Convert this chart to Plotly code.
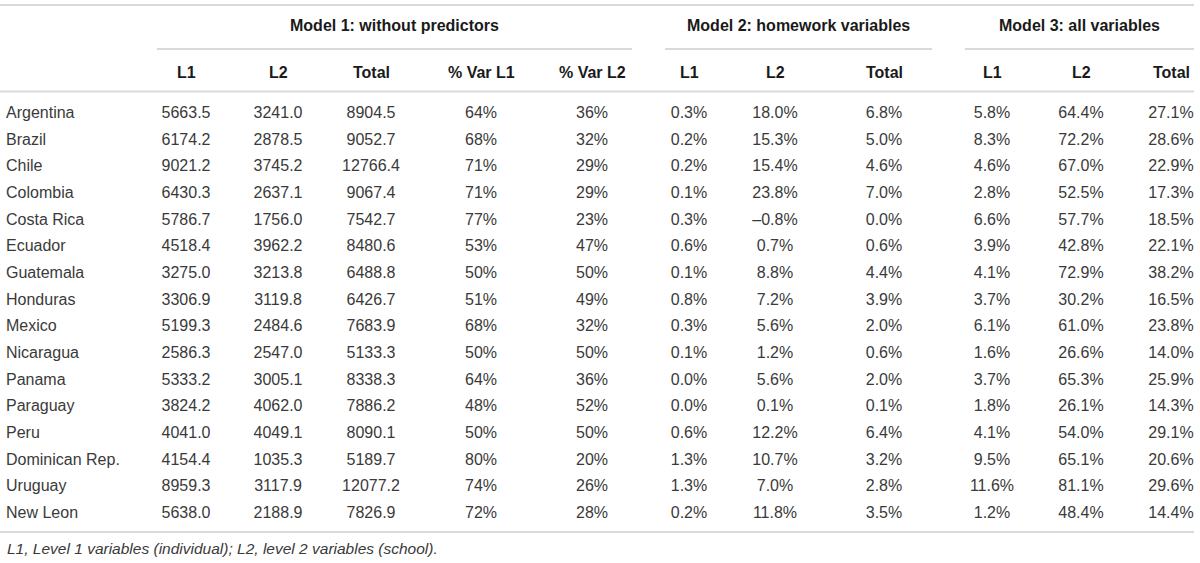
import plotly.graph_objects as go

# Data
countries = ["Argentina", "Brazil", "Chile", "Colombia", "Costa Rica", "Ecuador",
             "Guatemala", "Honduras", "Mexico", "Nicaragua", "Panama", "Paraguay",
             "Peru", "Dominican Rep.", "Uruguay", "New Leon"]

m1_l1 = ["5663.5", "6174.2", "9021.2", "6430.3", "5786.7", "4518.4", "3275.0", "3306.9",
         "5199.3", "2586.3", "5333.2", "3824.2", "4041.0", "4154.4", "8959.3", "5638.0"]
m1_l2 = ["3241.0", "2878.5", "3745.2", "2637.1", "1756.0", "3962.2", "3213.8", "3119.8",
         "2484.6", "2547.0", "3005.1", "4062.0", "4049.1", "1035.3", "3117.9", "2188.9"]
m1_total = ["8904.5", "9052.7", "12766.4", "9067.4", "7542.7", "8480.6", "6488.8", "6426.7",
            "7683.9", "5133.3", "8338.3", "7886.2", "8090.1", "5189.7", "12077.2", "7826.9"]
m1_var_l1 = ["64%", "68%", "71%", "71%", "77%", "53%", "50%", "51%",
             "68%", "50%", "64%", "48%", "50%", "80%", "74%", "72%"]
m1_var_l2 = ["36%", "32%", "29%", "29%", "23%", "47%", "50%", "49%",
             "32%", "50%", "36%", "52%", "50%", "20%", "26%", "28%"]

m2_l1 = ["0.3%", "0.2%", "0.2%", "0.1%", "0.3%", "0.6%", "0.1%", "0.8%",
         "0.3%", "0.1%", "0.0%", "0.0%", "0.6%", "1.3%", "1.3%", "0.2%"]
m2_l2 = ["18.0%", "15.3%", "15.4%", "23.8%", "\u20130.8%", "0.7%", "8.8%", "7.2%",
         "5.6%", "1.2%", "5.6%", "0.1%", "12.2%", "10.7%", "7.0%", "11.8%"]
m2_total = ["6.8%", "5.0%", "4.6%", "7.0%", "0.0%", "0.6%", "4.4%", "3.9%",
            "2.0%", "0.6%", "2.0%", "0.1%", "6.4%", "3.2%", "2.8%", "3.5%"]

m3_l1 = ["5.8%", "8.3%", "4.6%", "2.8%", "6.6%", "3.9%", "4.1%", "3.7%",
         "6.1%", "1.6%", "3.7%", "1.8%", "4.1%", "9.5%", "11.6%", "1.2%"]
m3_l2 = ["64.4%", "72.2%", "67.0%", "52.5%", "57.7%", "42.8%", "72.9%", "30.2%",
         "61.0%", "26.6%", "65.3%", "26.1%", "54.0%", "65.1%", "81.1%", "48.4%"]
m3_total = ["27.1%", "28.6%", "22.9%", "17.3%", "18.5%", "22.1%", "38.2%", "16.5%",
            "23.8%", "14.0%", "25.9%", "14.3%", "29.1%", "20.6%", "29.6%", "14.4%"]

col_headers = ["L1", "L2", "Total", "% Var L1", "% Var L2",
               "L1", "L2", "Total",
               "L1", "L2", "Total"]
group_headers = ["Model 1: without predictors", "Model 2: homework variables",
                 "Model 3: all variables"]
footnote = "L1, Level 1 variables (individual); L2, level 2 variables (school)."

# Layout / style
W, H = 1200, 563
FONT = "Liberation Sans"
TXT = "#3a3a3a"
HDR = "#1a1a1a"
RULE = "#d9d9d9"
ROW0, ROW_H = 114, 26.67
col_x = [186, 278, 371, 481, 592, 689, 775, 884, 992, 1081, 1171]
group_span = [(157, 632), (665, 932), (965, 1194)]


def py(px):
    return 1 - px / H


columns = [m1_l1, m1_l2, m1_total, m1_var_l1, m1_var_l2,
           m2_l1, m2_l2, m2_total, m3_l1, m3_l2, m3_total]
rows = list(range(len(countries)))

fig = go.Figure()
fig.add_trace(go.Scatter(
    x=[6] * len(countries), y=rows, text=countries, mode="text",
    textposition="middle right", textfont=dict(family=FONT, size=16, color=TXT),
    hoverinfo="skip", showlegend=False))
for cx, vals in zip(col_x, columns):
    fig.add_trace(go.Scatter(
        x=[cx] * len(vals), y=rows, text=vals, mode="text",
        textposition="middle center", textfont=dict(family=FONT, size=16, color=TXT),
        hoverinfo="skip", showlegend=False))

shapes = []
for y, x0, x1 in [(5, 0, 1194), (91.5, 0, 1194), (532, 0, 1194)]:
    shapes.append(dict(type="line", xref="x", yref="paper", x0=x0, x1=x1,
                       y0=py(y), y1=py(y), line=dict(color=RULE, width=2)))
for x0, x1 in group_span:
    shapes.append(dict(type="line", xref="x", yref="paper", x0=x0, x1=x1,
                       y0=py(49), y1=py(49), line=dict(color=RULE, width=2)))

annotations = []
for (x0, x1), g in zip(group_span, group_headers):
    annotations.append(dict(x=(x0 + x1) / 2, y=py(26), xref="x", yref="paper",
                            yanchor="middle", text="<b>" + g + "</b>", showarrow=False,
                            font=dict(family=FONT, size=16, color=HDR)))
for cx, h in zip(col_x, col_headers):
    annotations.append(dict(x=cx, y=py(72), xref="x", yref="paper",
                            yanchor="middle", text="<b>" + h + "</b>", showarrow=False,
                            font=dict(family=FONT, size=16, color=HDR)))
annotations.append(dict(x=5, y=py(548), xref="x", yref="paper", xanchor="left",
                        yanchor="middle", text="<i>" + footnote + "</i>", showarrow=False,
                        font=dict(family=FONT, size=15.5, color=TXT)))

fig.update_layout(
    width=W, height=H,
    margin=dict(l=0, r=0, t=0, b=0),
    paper_bgcolor="white", plot_bgcolor="white",
    xaxis=dict(range=[0, W], visible=False, fixedrange=True),
    yaxis=dict(range=[(H - ROW0) / ROW_H, -ROW0 / ROW_H], visible=False, fixedrange=True),
    shapes=shapes, annotations=annotations,
)

# the page body has a default 8px margin; drop it so the figure fills the window
fig.write_html("out.html", config={"displayModeBar": False},
               post_script="document.body.style.margin='0';document.body.style.overflow='hidden';")
